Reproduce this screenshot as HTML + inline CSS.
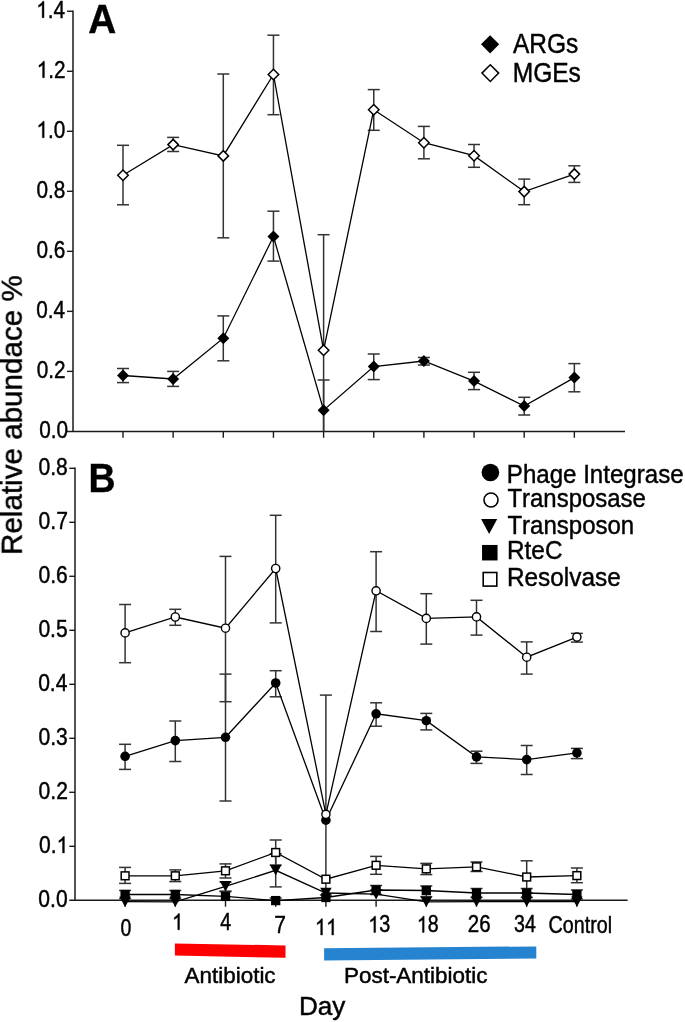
<!DOCTYPE html>
<html><head><meta charset="utf-8"><title>Relative abundance chart</title>
<style>
html,body{margin:0;padding:0;background:#fff;}
body{width:685px;height:1022px;overflow:hidden;}
svg{display:block;font-family:"Liberation Sans",sans-serif;font-kerning:none;}
text{font-kerning:none;}
</style></head>
<body>
<svg width="685" height="1022" viewBox="0 0 685 1022">
<rect width="685" height="1022" fill="#fff"/>
<line x1="73.00" y1="10.56" x2="73.00" y2="431.40" stroke="#1a1a1a" stroke-width="1.5"/>
<line x1="67.00" y1="431.40" x2="625.00" y2="431.40" stroke="#1a1a1a" stroke-width="1.5"/>
<line x1="67.00" y1="371.38" x2="73.00" y2="371.38" stroke="#1a1a1a" stroke-width="1.4"/>
<line x1="67.00" y1="311.36" x2="73.00" y2="311.36" stroke="#1a1a1a" stroke-width="1.4"/>
<line x1="67.00" y1="251.34" x2="73.00" y2="251.34" stroke="#1a1a1a" stroke-width="1.4"/>
<line x1="67.00" y1="191.32" x2="73.00" y2="191.32" stroke="#1a1a1a" stroke-width="1.4"/>
<line x1="67.00" y1="131.30" x2="73.00" y2="131.30" stroke="#1a1a1a" stroke-width="1.4"/>
<line x1="67.00" y1="71.28" x2="73.00" y2="71.28" stroke="#1a1a1a" stroke-width="1.4"/>
<line x1="67.00" y1="11.26" x2="73.00" y2="11.26" stroke="#1a1a1a" stroke-width="1.4"/>
<line x1="123.00" y1="431.40" x2="123.00" y2="437.80" stroke="#1a1a1a" stroke-width="1.4"/>
<line x1="173.15" y1="431.40" x2="173.15" y2="437.80" stroke="#1a1a1a" stroke-width="1.4"/>
<line x1="223.30" y1="431.40" x2="223.30" y2="437.80" stroke="#1a1a1a" stroke-width="1.4"/>
<line x1="273.45" y1="431.40" x2="273.45" y2="437.80" stroke="#1a1a1a" stroke-width="1.4"/>
<line x1="323.60" y1="431.40" x2="323.60" y2="437.80" stroke="#1a1a1a" stroke-width="1.4"/>
<line x1="373.75" y1="431.40" x2="373.75" y2="437.80" stroke="#1a1a1a" stroke-width="1.4"/>
<line x1="423.90" y1="431.40" x2="423.90" y2="437.80" stroke="#1a1a1a" stroke-width="1.4"/>
<line x1="474.05" y1="431.40" x2="474.05" y2="437.80" stroke="#1a1a1a" stroke-width="1.4"/>
<line x1="524.20" y1="431.40" x2="524.20" y2="437.80" stroke="#1a1a1a" stroke-width="1.4"/>
<line x1="574.35" y1="431.40" x2="574.35" y2="437.80" stroke="#1a1a1a" stroke-width="1.4"/>
<line x1="123.00" y1="368.50" x2="123.00" y2="382.60" stroke="#333" stroke-width="1.5"/>
<line x1="117.00" y1="368.50" x2="129.00" y2="368.50" stroke="#333" stroke-width="1.5"/>
<line x1="117.00" y1="382.60" x2="129.00" y2="382.60" stroke="#333" stroke-width="1.5"/>
<line x1="173.15" y1="371.40" x2="173.15" y2="386.40" stroke="#333" stroke-width="1.5"/>
<line x1="167.15" y1="371.40" x2="179.15" y2="371.40" stroke="#333" stroke-width="1.5"/>
<line x1="167.15" y1="386.40" x2="179.15" y2="386.40" stroke="#333" stroke-width="1.5"/>
<line x1="223.30" y1="315.90" x2="223.30" y2="360.80" stroke="#333" stroke-width="1.5"/>
<line x1="217.30" y1="315.90" x2="229.30" y2="315.90" stroke="#333" stroke-width="1.5"/>
<line x1="217.30" y1="360.80" x2="229.30" y2="360.80" stroke="#333" stroke-width="1.5"/>
<line x1="273.45" y1="211.20" x2="273.45" y2="261.10" stroke="#333" stroke-width="1.5"/>
<line x1="267.45" y1="211.20" x2="279.45" y2="211.20" stroke="#333" stroke-width="1.5"/>
<line x1="267.45" y1="261.10" x2="279.45" y2="261.10" stroke="#333" stroke-width="1.5"/>
<line x1="323.60" y1="380.00" x2="323.60" y2="431.40" stroke="#333" stroke-width="1.5"/>
<line x1="317.60" y1="380.00" x2="329.60" y2="380.00" stroke="#333" stroke-width="1.5"/>
<line x1="373.75" y1="354.00" x2="373.75" y2="379.60" stroke="#333" stroke-width="1.5"/>
<line x1="367.75" y1="354.00" x2="379.75" y2="354.00" stroke="#333" stroke-width="1.5"/>
<line x1="367.75" y1="379.60" x2="379.75" y2="379.60" stroke="#333" stroke-width="1.5"/>
<line x1="423.90" y1="357.50" x2="423.90" y2="365.00" stroke="#333" stroke-width="1.5"/>
<line x1="417.90" y1="357.50" x2="429.90" y2="357.50" stroke="#333" stroke-width="1.5"/>
<line x1="417.90" y1="365.00" x2="429.90" y2="365.00" stroke="#333" stroke-width="1.5"/>
<line x1="474.05" y1="372.30" x2="474.05" y2="389.60" stroke="#333" stroke-width="1.5"/>
<line x1="468.05" y1="372.30" x2="480.05" y2="372.30" stroke="#333" stroke-width="1.5"/>
<line x1="468.05" y1="389.60" x2="480.05" y2="389.60" stroke="#333" stroke-width="1.5"/>
<line x1="524.20" y1="397.30" x2="524.20" y2="415.00" stroke="#333" stroke-width="1.5"/>
<line x1="518.20" y1="397.30" x2="530.20" y2="397.30" stroke="#333" stroke-width="1.5"/>
<line x1="518.20" y1="415.00" x2="530.20" y2="415.00" stroke="#333" stroke-width="1.5"/>
<line x1="574.35" y1="363.60" x2="574.35" y2="391.80" stroke="#333" stroke-width="1.5"/>
<line x1="568.35" y1="363.60" x2="580.35" y2="363.60" stroke="#333" stroke-width="1.5"/>
<line x1="568.35" y1="391.80" x2="580.35" y2="391.80" stroke="#333" stroke-width="1.5"/>
<polyline points="123.00,375.50 173.15,379.00 223.30,338.20 273.45,236.50 323.60,410.20 373.75,366.60 423.90,361.00 474.05,381.10 524.20,406.10 574.35,377.60" fill="none" stroke="#000" stroke-width="1.3" stroke-linejoin="miter"/>
<line x1="123.00" y1="145.30" x2="123.00" y2="204.80" stroke="#333" stroke-width="1.5"/>
<line x1="117.00" y1="145.30" x2="129.00" y2="145.30" stroke="#333" stroke-width="1.5"/>
<line x1="117.00" y1="204.80" x2="129.00" y2="204.80" stroke="#333" stroke-width="1.5"/>
<line x1="173.15" y1="137.40" x2="173.15" y2="151.50" stroke="#333" stroke-width="1.5"/>
<line x1="167.15" y1="137.40" x2="179.15" y2="137.40" stroke="#333" stroke-width="1.5"/>
<line x1="167.15" y1="151.50" x2="179.15" y2="151.50" stroke="#333" stroke-width="1.5"/>
<line x1="223.30" y1="74.00" x2="223.30" y2="237.80" stroke="#333" stroke-width="1.5"/>
<line x1="217.30" y1="74.00" x2="229.30" y2="74.00" stroke="#333" stroke-width="1.5"/>
<line x1="217.30" y1="237.80" x2="229.30" y2="237.80" stroke="#333" stroke-width="1.5"/>
<line x1="273.45" y1="35.20" x2="273.45" y2="114.70" stroke="#333" stroke-width="1.5"/>
<line x1="267.45" y1="35.20" x2="279.45" y2="35.20" stroke="#333" stroke-width="1.5"/>
<line x1="267.45" y1="114.70" x2="279.45" y2="114.70" stroke="#333" stroke-width="1.5"/>
<line x1="323.60" y1="234.70" x2="323.60" y2="431.40" stroke="#333" stroke-width="1.5"/>
<line x1="317.60" y1="234.70" x2="329.60" y2="234.70" stroke="#333" stroke-width="1.5"/>
<line x1="373.75" y1="89.60" x2="373.75" y2="130.30" stroke="#333" stroke-width="1.5"/>
<line x1="367.75" y1="89.60" x2="379.75" y2="89.60" stroke="#333" stroke-width="1.5"/>
<line x1="367.75" y1="130.30" x2="379.75" y2="130.30" stroke="#333" stroke-width="1.5"/>
<line x1="423.90" y1="126.40" x2="423.90" y2="158.80" stroke="#333" stroke-width="1.5"/>
<line x1="417.90" y1="126.40" x2="429.90" y2="126.40" stroke="#333" stroke-width="1.5"/>
<line x1="417.90" y1="158.80" x2="429.90" y2="158.80" stroke="#333" stroke-width="1.5"/>
<line x1="474.05" y1="144.50" x2="474.05" y2="167.30" stroke="#333" stroke-width="1.5"/>
<line x1="468.05" y1="144.50" x2="480.05" y2="144.50" stroke="#333" stroke-width="1.5"/>
<line x1="468.05" y1="167.30" x2="480.05" y2="167.30" stroke="#333" stroke-width="1.5"/>
<line x1="524.20" y1="179.10" x2="524.20" y2="204.70" stroke="#333" stroke-width="1.5"/>
<line x1="518.20" y1="179.10" x2="530.20" y2="179.10" stroke="#333" stroke-width="1.5"/>
<line x1="518.20" y1="204.70" x2="530.20" y2="204.70" stroke="#333" stroke-width="1.5"/>
<line x1="574.35" y1="165.80" x2="574.35" y2="182.40" stroke="#333" stroke-width="1.5"/>
<line x1="568.35" y1="165.80" x2="580.35" y2="165.80" stroke="#333" stroke-width="1.5"/>
<line x1="568.35" y1="182.40" x2="580.35" y2="182.40" stroke="#333" stroke-width="1.5"/>
<polyline points="123.00,175.20 173.15,144.60 223.30,155.90 273.45,74.50 323.60,350.20 373.75,109.80 423.90,142.70 474.05,155.70 524.20,191.60 574.35,174.10" fill="none" stroke="#000" stroke-width="1.3" stroke-linejoin="miter"/>
<path d="M123.00,369.50 L129.00,375.50 L123.00,381.50 L117.00,375.50 Z" fill="#000"/>
<path d="M173.15,373.00 L179.15,379.00 L173.15,385.00 L167.15,379.00 Z" fill="#000"/>
<path d="M223.30,332.20 L229.30,338.20 L223.30,344.20 L217.30,338.20 Z" fill="#000"/>
<path d="M273.45,230.50 L279.45,236.50 L273.45,242.50 L267.45,236.50 Z" fill="#000"/>
<path d="M323.60,404.20 L329.60,410.20 L323.60,416.20 L317.60,410.20 Z" fill="#000"/>
<path d="M373.75,360.60 L379.75,366.60 L373.75,372.60 L367.75,366.60 Z" fill="#000"/>
<path d="M423.90,355.00 L429.90,361.00 L423.90,367.00 L417.90,361.00 Z" fill="#000"/>
<path d="M474.05,375.10 L480.05,381.10 L474.05,387.10 L468.05,381.10 Z" fill="#000"/>
<path d="M524.20,400.10 L530.20,406.10 L524.20,412.10 L518.20,406.10 Z" fill="#000"/>
<path d="M574.35,371.60 L580.35,377.60 L574.35,383.60 L568.35,377.60 Z" fill="#000"/>
<path d="M123.00,169.95 L128.25,175.20 L123.00,180.45 L117.75,175.20 Z" fill="#fff" stroke="#000" stroke-width="1.5"/>
<path d="M173.15,139.35 L178.40,144.60 L173.15,149.85 L167.90,144.60 Z" fill="#fff" stroke="#000" stroke-width="1.5"/>
<path d="M223.30,150.65 L228.55,155.90 L223.30,161.15 L218.05,155.90 Z" fill="#fff" stroke="#000" stroke-width="1.5"/>
<path d="M273.45,69.25 L278.70,74.50 L273.45,79.75 L268.20,74.50 Z" fill="#fff" stroke="#000" stroke-width="1.5"/>
<path d="M323.60,344.95 L328.85,350.20 L323.60,355.45 L318.35,350.20 Z" fill="#fff" stroke="#000" stroke-width="1.5"/>
<path d="M373.75,104.55 L379.00,109.80 L373.75,115.05 L368.50,109.80 Z" fill="#fff" stroke="#000" stroke-width="1.5"/>
<path d="M423.90,137.45 L429.15,142.70 L423.90,147.95 L418.65,142.70 Z" fill="#fff" stroke="#000" stroke-width="1.5"/>
<path d="M474.05,150.45 L479.30,155.70 L474.05,160.95 L468.80,155.70 Z" fill="#fff" stroke="#000" stroke-width="1.5"/>
<path d="M524.20,186.35 L529.45,191.60 L524.20,196.85 L518.95,191.60 Z" fill="#fff" stroke="#000" stroke-width="1.5"/>
<path d="M574.35,168.85 L579.60,174.10 L574.35,179.35 L569.10,174.10 Z" fill="#fff" stroke="#000" stroke-width="1.5"/>
<path d="M490.10,35.20 L499.20,44.30 L490.10,53.40 L481.00,44.30 Z" fill="#000"/>
<path d="M490.30,64.75 L498.65,73.10 L490.30,81.45 L481.95,73.10 Z" fill="#fff" stroke="#000" stroke-width="1.5"/>
<line x1="75.00" y1="467.60" x2="75.00" y2="900.30" stroke="#1a1a1a" stroke-width="1.5"/>
<line x1="69.30" y1="900.30" x2="627.60" y2="900.30" stroke="#1a1a1a" stroke-width="1.5"/>
<line x1="69.30" y1="846.30" x2="75.00" y2="846.30" stroke="#1a1a1a" stroke-width="1.4"/>
<line x1="69.30" y1="792.30" x2="75.00" y2="792.30" stroke="#1a1a1a" stroke-width="1.4"/>
<line x1="69.30" y1="738.30" x2="75.00" y2="738.30" stroke="#1a1a1a" stroke-width="1.4"/>
<line x1="69.30" y1="684.30" x2="75.00" y2="684.30" stroke="#1a1a1a" stroke-width="1.4"/>
<line x1="69.30" y1="630.30" x2="75.00" y2="630.30" stroke="#1a1a1a" stroke-width="1.4"/>
<line x1="69.30" y1="576.30" x2="75.00" y2="576.30" stroke="#1a1a1a" stroke-width="1.4"/>
<line x1="69.30" y1="522.30" x2="75.00" y2="522.30" stroke="#1a1a1a" stroke-width="1.4"/>
<line x1="69.30" y1="468.30" x2="75.00" y2="468.30" stroke="#1a1a1a" stroke-width="1.4"/>
<line x1="125.10" y1="900.30" x2="125.10" y2="906.70" stroke="#1a1a1a" stroke-width="1.4"/>
<line x1="175.30" y1="900.30" x2="175.30" y2="906.70" stroke="#1a1a1a" stroke-width="1.4"/>
<line x1="225.50" y1="900.30" x2="225.50" y2="906.70" stroke="#1a1a1a" stroke-width="1.4"/>
<line x1="275.70" y1="900.30" x2="275.70" y2="906.70" stroke="#1a1a1a" stroke-width="1.4"/>
<line x1="325.90" y1="900.30" x2="325.90" y2="906.70" stroke="#1a1a1a" stroke-width="1.4"/>
<line x1="376.10" y1="900.30" x2="376.10" y2="906.70" stroke="#1a1a1a" stroke-width="1.4"/>
<line x1="426.30" y1="900.30" x2="426.30" y2="906.70" stroke="#1a1a1a" stroke-width="1.4"/>
<line x1="476.50" y1="900.30" x2="476.50" y2="906.70" stroke="#1a1a1a" stroke-width="1.4"/>
<line x1="526.70" y1="900.30" x2="526.70" y2="906.70" stroke="#1a1a1a" stroke-width="1.4"/>
<line x1="576.90" y1="900.30" x2="576.90" y2="906.70" stroke="#1a1a1a" stroke-width="1.4"/>
<line x1="125.10" y1="744.30" x2="125.10" y2="769.40" stroke="#333" stroke-width="1.5"/>
<line x1="119.10" y1="744.30" x2="131.10" y2="744.30" stroke="#333" stroke-width="1.5"/>
<line x1="119.10" y1="769.40" x2="131.10" y2="769.40" stroke="#333" stroke-width="1.5"/>
<line x1="175.30" y1="721.00" x2="175.30" y2="761.50" stroke="#333" stroke-width="1.5"/>
<line x1="169.30" y1="721.00" x2="181.30" y2="721.00" stroke="#333" stroke-width="1.5"/>
<line x1="169.30" y1="761.50" x2="181.30" y2="761.50" stroke="#333" stroke-width="1.5"/>
<line x1="225.50" y1="674.10" x2="225.50" y2="801.00" stroke="#333" stroke-width="1.5"/>
<line x1="219.50" y1="674.10" x2="231.50" y2="674.10" stroke="#333" stroke-width="1.5"/>
<line x1="219.50" y1="801.00" x2="231.50" y2="801.00" stroke="#333" stroke-width="1.5"/>
<line x1="275.70" y1="670.70" x2="275.70" y2="696.80" stroke="#333" stroke-width="1.5"/>
<line x1="269.70" y1="670.70" x2="281.70" y2="670.70" stroke="#333" stroke-width="1.5"/>
<line x1="269.70" y1="696.80" x2="281.70" y2="696.80" stroke="#333" stroke-width="1.5"/>
<line x1="376.10" y1="702.80" x2="376.10" y2="726.20" stroke="#333" stroke-width="1.5"/>
<line x1="370.10" y1="702.80" x2="382.10" y2="702.80" stroke="#333" stroke-width="1.5"/>
<line x1="370.10" y1="726.20" x2="382.10" y2="726.20" stroke="#333" stroke-width="1.5"/>
<line x1="426.30" y1="713.40" x2="426.30" y2="729.90" stroke="#333" stroke-width="1.5"/>
<line x1="420.30" y1="713.40" x2="432.30" y2="713.40" stroke="#333" stroke-width="1.5"/>
<line x1="420.30" y1="729.90" x2="432.30" y2="729.90" stroke="#333" stroke-width="1.5"/>
<line x1="476.50" y1="751.20" x2="476.50" y2="763.40" stroke="#333" stroke-width="1.5"/>
<line x1="470.50" y1="751.20" x2="482.50" y2="751.20" stroke="#333" stroke-width="1.5"/>
<line x1="470.50" y1="763.40" x2="482.50" y2="763.40" stroke="#333" stroke-width="1.5"/>
<line x1="526.70" y1="745.50" x2="526.70" y2="774.50" stroke="#333" stroke-width="1.5"/>
<line x1="520.70" y1="745.50" x2="532.70" y2="745.50" stroke="#333" stroke-width="1.5"/>
<line x1="520.70" y1="774.50" x2="532.70" y2="774.50" stroke="#333" stroke-width="1.5"/>
<line x1="576.90" y1="748.40" x2="576.90" y2="758.60" stroke="#333" stroke-width="1.5"/>
<line x1="570.90" y1="748.40" x2="582.90" y2="748.40" stroke="#333" stroke-width="1.5"/>
<line x1="570.90" y1="758.60" x2="582.90" y2="758.60" stroke="#333" stroke-width="1.5"/>
<line x1="125.10" y1="604.50" x2="125.10" y2="662.70" stroke="#333" stroke-width="1.5"/>
<line x1="119.10" y1="604.50" x2="131.10" y2="604.50" stroke="#333" stroke-width="1.5"/>
<line x1="119.10" y1="662.70" x2="131.10" y2="662.70" stroke="#333" stroke-width="1.5"/>
<line x1="175.30" y1="609.30" x2="175.30" y2="625.30" stroke="#333" stroke-width="1.5"/>
<line x1="169.30" y1="609.30" x2="181.30" y2="609.30" stroke="#333" stroke-width="1.5"/>
<line x1="169.30" y1="625.30" x2="181.30" y2="625.30" stroke="#333" stroke-width="1.5"/>
<line x1="225.50" y1="556.40" x2="225.50" y2="701.70" stroke="#333" stroke-width="1.5"/>
<line x1="219.50" y1="556.40" x2="231.50" y2="556.40" stroke="#333" stroke-width="1.5"/>
<line x1="219.50" y1="701.70" x2="231.50" y2="701.70" stroke="#333" stroke-width="1.5"/>
<line x1="275.70" y1="515.30" x2="275.70" y2="622.90" stroke="#333" stroke-width="1.5"/>
<line x1="269.70" y1="515.30" x2="281.70" y2="515.30" stroke="#333" stroke-width="1.5"/>
<line x1="269.70" y1="622.90" x2="281.70" y2="622.90" stroke="#333" stroke-width="1.5"/>
<line x1="325.90" y1="695.10" x2="325.90" y2="900.30" stroke="#333" stroke-width="1.5"/>
<line x1="319.90" y1="695.10" x2="331.90" y2="695.10" stroke="#333" stroke-width="1.5"/>
<line x1="376.10" y1="551.70" x2="376.10" y2="631.50" stroke="#333" stroke-width="1.5"/>
<line x1="370.10" y1="551.70" x2="382.10" y2="551.70" stroke="#333" stroke-width="1.5"/>
<line x1="370.10" y1="631.50" x2="382.10" y2="631.50" stroke="#333" stroke-width="1.5"/>
<line x1="426.30" y1="593.70" x2="426.30" y2="644.10" stroke="#333" stroke-width="1.5"/>
<line x1="420.30" y1="593.70" x2="432.30" y2="593.70" stroke="#333" stroke-width="1.5"/>
<line x1="420.30" y1="644.10" x2="432.30" y2="644.10" stroke="#333" stroke-width="1.5"/>
<line x1="476.50" y1="600.30" x2="476.50" y2="635.10" stroke="#333" stroke-width="1.5"/>
<line x1="470.50" y1="600.30" x2="482.50" y2="600.30" stroke="#333" stroke-width="1.5"/>
<line x1="470.50" y1="635.10" x2="482.50" y2="635.10" stroke="#333" stroke-width="1.5"/>
<line x1="526.70" y1="641.90" x2="526.70" y2="674.10" stroke="#333" stroke-width="1.5"/>
<line x1="520.70" y1="641.90" x2="532.70" y2="641.90" stroke="#333" stroke-width="1.5"/>
<line x1="520.70" y1="674.10" x2="532.70" y2="674.10" stroke="#333" stroke-width="1.5"/>
<line x1="576.90" y1="633.40" x2="576.90" y2="642.10" stroke="#333" stroke-width="1.5"/>
<line x1="570.90" y1="633.40" x2="582.90" y2="633.40" stroke="#333" stroke-width="1.5"/>
<line x1="570.90" y1="642.10" x2="582.90" y2="642.10" stroke="#333" stroke-width="1.5"/>
<line x1="225.50" y1="882.00" x2="225.50" y2="891.20" stroke="#333" stroke-width="1.5"/>
<line x1="219.50" y1="882.00" x2="231.50" y2="882.00" stroke="#333" stroke-width="1.5"/>
<line x1="219.50" y1="891.20" x2="231.50" y2="891.20" stroke="#333" stroke-width="1.5"/>
<line x1="275.70" y1="853.70" x2="275.70" y2="886.90" stroke="#333" stroke-width="1.5"/>
<line x1="269.70" y1="853.70" x2="281.70" y2="853.70" stroke="#333" stroke-width="1.5"/>
<line x1="269.70" y1="886.90" x2="281.70" y2="886.90" stroke="#333" stroke-width="1.5"/>
<line x1="125.10" y1="890.50" x2="125.10" y2="898.50" stroke="#333" stroke-width="1.5"/>
<line x1="119.10" y1="890.50" x2="131.10" y2="890.50" stroke="#333" stroke-width="1.5"/>
<line x1="119.10" y1="898.50" x2="131.10" y2="898.50" stroke="#333" stroke-width="1.5"/>
<line x1="175.30" y1="890.50" x2="175.30" y2="898.50" stroke="#333" stroke-width="1.5"/>
<line x1="169.30" y1="890.50" x2="181.30" y2="890.50" stroke="#333" stroke-width="1.5"/>
<line x1="169.30" y1="898.50" x2="181.30" y2="898.50" stroke="#333" stroke-width="1.5"/>
<line x1="225.50" y1="891.60" x2="225.50" y2="900.80" stroke="#333" stroke-width="1.5"/>
<line x1="219.50" y1="891.60" x2="231.50" y2="891.60" stroke="#333" stroke-width="1.5"/>
<line x1="275.70" y1="898.00" x2="275.70" y2="903.00" stroke="#333" stroke-width="1.5"/>
<line x1="269.70" y1="898.00" x2="281.70" y2="898.00" stroke="#333" stroke-width="1.5"/>
<line x1="325.90" y1="895.00" x2="325.90" y2="900.00" stroke="#333" stroke-width="1.5"/>
<line x1="319.90" y1="895.00" x2="331.90" y2="895.00" stroke="#333" stroke-width="1.5"/>
<line x1="376.10" y1="885.50" x2="376.10" y2="894.50" stroke="#333" stroke-width="1.5"/>
<line x1="370.10" y1="885.50" x2="382.10" y2="885.50" stroke="#333" stroke-width="1.5"/>
<line x1="370.10" y1="894.50" x2="382.10" y2="894.50" stroke="#333" stroke-width="1.5"/>
<line x1="426.30" y1="886.00" x2="426.30" y2="896.60" stroke="#333" stroke-width="1.5"/>
<line x1="420.30" y1="886.00" x2="432.30" y2="886.00" stroke="#333" stroke-width="1.5"/>
<line x1="420.30" y1="896.60" x2="432.30" y2="896.60" stroke="#333" stroke-width="1.5"/>
<line x1="476.50" y1="888.50" x2="476.50" y2="897.50" stroke="#333" stroke-width="1.5"/>
<line x1="470.50" y1="888.50" x2="482.50" y2="888.50" stroke="#333" stroke-width="1.5"/>
<line x1="470.50" y1="897.50" x2="482.50" y2="897.50" stroke="#333" stroke-width="1.5"/>
<line x1="526.70" y1="888.50" x2="526.70" y2="897.50" stroke="#333" stroke-width="1.5"/>
<line x1="520.70" y1="888.50" x2="532.70" y2="888.50" stroke="#333" stroke-width="1.5"/>
<line x1="520.70" y1="897.50" x2="532.70" y2="897.50" stroke="#333" stroke-width="1.5"/>
<line x1="576.90" y1="890.00" x2="576.90" y2="899.00" stroke="#333" stroke-width="1.5"/>
<line x1="570.90" y1="890.00" x2="582.90" y2="890.00" stroke="#333" stroke-width="1.5"/>
<line x1="570.90" y1="899.00" x2="582.90" y2="899.00" stroke="#333" stroke-width="1.5"/>
<line x1="125.10" y1="867.40" x2="125.10" y2="883.40" stroke="#333" stroke-width="1.5"/>
<line x1="119.10" y1="867.40" x2="131.10" y2="867.40" stroke="#333" stroke-width="1.5"/>
<line x1="119.10" y1="883.40" x2="131.10" y2="883.40" stroke="#333" stroke-width="1.5"/>
<line x1="175.30" y1="869.90" x2="175.30" y2="881.60" stroke="#333" stroke-width="1.5"/>
<line x1="169.30" y1="869.90" x2="181.30" y2="869.90" stroke="#333" stroke-width="1.5"/>
<line x1="169.30" y1="881.60" x2="181.30" y2="881.60" stroke="#333" stroke-width="1.5"/>
<line x1="225.50" y1="863.90" x2="225.50" y2="878.00" stroke="#333" stroke-width="1.5"/>
<line x1="219.50" y1="863.90" x2="231.50" y2="863.90" stroke="#333" stroke-width="1.5"/>
<line x1="219.50" y1="878.00" x2="231.50" y2="878.00" stroke="#333" stroke-width="1.5"/>
<line x1="275.70" y1="840.00" x2="275.70" y2="865.00" stroke="#333" stroke-width="1.5"/>
<line x1="269.70" y1="840.00" x2="281.70" y2="840.00" stroke="#333" stroke-width="1.5"/>
<line x1="269.70" y1="865.00" x2="281.70" y2="865.00" stroke="#333" stroke-width="1.5"/>
<line x1="376.10" y1="856.40" x2="376.10" y2="874.30" stroke="#333" stroke-width="1.5"/>
<line x1="370.10" y1="856.40" x2="382.10" y2="856.40" stroke="#333" stroke-width="1.5"/>
<line x1="370.10" y1="874.30" x2="382.10" y2="874.30" stroke="#333" stroke-width="1.5"/>
<line x1="426.30" y1="863.40" x2="426.30" y2="874.60" stroke="#333" stroke-width="1.5"/>
<line x1="420.30" y1="863.40" x2="432.30" y2="863.40" stroke="#333" stroke-width="1.5"/>
<line x1="420.30" y1="874.60" x2="432.30" y2="874.60" stroke="#333" stroke-width="1.5"/>
<line x1="476.50" y1="862.00" x2="476.50" y2="871.50" stroke="#333" stroke-width="1.5"/>
<line x1="470.50" y1="862.00" x2="482.50" y2="862.00" stroke="#333" stroke-width="1.5"/>
<line x1="470.50" y1="871.50" x2="482.50" y2="871.50" stroke="#333" stroke-width="1.5"/>
<line x1="526.70" y1="860.80" x2="526.70" y2="893.00" stroke="#333" stroke-width="1.5"/>
<line x1="520.70" y1="860.80" x2="532.70" y2="860.80" stroke="#333" stroke-width="1.5"/>
<line x1="520.70" y1="893.00" x2="532.70" y2="893.00" stroke="#333" stroke-width="1.5"/>
<line x1="576.90" y1="868.00" x2="576.90" y2="882.70" stroke="#333" stroke-width="1.5"/>
<line x1="570.90" y1="868.00" x2="582.90" y2="868.00" stroke="#333" stroke-width="1.5"/>
<line x1="570.90" y1="882.70" x2="582.90" y2="882.70" stroke="#333" stroke-width="1.5"/>
<polyline points="125.10,756.30 175.30,740.60 225.50,737.30 275.70,683.00 325.90,820.20 376.10,713.80 426.30,720.70 476.50,756.90 526.70,759.60 576.90,752.90" fill="none" stroke="#000" stroke-width="1.3" stroke-linejoin="miter"/>
<polyline points="125.10,632.90 175.30,617.00 225.50,628.20 275.70,568.50 325.90,814.30 376.10,590.80 426.30,618.40 476.50,616.90 526.70,657.20 576.90,637.10" fill="none" stroke="#000" stroke-width="1.3" stroke-linejoin="miter"/>
<polyline points="125.10,901.70 175.30,901.80 225.50,886.30 275.70,870.30 325.90,893.00 376.10,894.20 426.30,901.90 476.50,901.60 526.70,901.60 576.90,901.60" fill="none" stroke="#000" stroke-width="1.3" stroke-linejoin="miter"/>
<polyline points="125.10,894.50 175.30,894.50 225.50,896.40 275.70,900.60 325.90,897.50 376.10,890.00 426.30,890.50 476.50,893.00 526.70,893.00 576.90,894.50" fill="none" stroke="#000" stroke-width="1.3" stroke-linejoin="miter"/>
<polyline points="125.10,875.80 175.30,875.80 225.50,870.80 275.70,852.50 325.90,879.20 376.10,865.30 426.30,868.90 476.50,866.80 526.70,877.00 576.90,875.60" fill="none" stroke="#000" stroke-width="1.3" stroke-linejoin="miter"/>
<circle cx="125.10" cy="756.30" r="4.80" fill="#000"/>
<circle cx="175.30" cy="740.60" r="4.80" fill="#000"/>
<circle cx="225.50" cy="737.30" r="4.80" fill="#000"/>
<circle cx="275.70" cy="683.00" r="4.80" fill="#000"/>
<circle cx="325.90" cy="820.20" r="4.80" fill="#000"/>
<circle cx="376.10" cy="713.80" r="4.80" fill="#000"/>
<circle cx="426.30" cy="720.70" r="4.80" fill="#000"/>
<circle cx="476.50" cy="756.90" r="4.80" fill="#000"/>
<circle cx="526.70" cy="759.60" r="4.80" fill="#000"/>
<circle cx="576.90" cy="752.90" r="4.80" fill="#000"/>
<circle cx="125.10" cy="632.90" r="4.10" fill="#fff" stroke="#000" stroke-width="1.4"/>
<circle cx="175.30" cy="617.00" r="4.10" fill="#fff" stroke="#000" stroke-width="1.4"/>
<circle cx="225.50" cy="628.20" r="4.10" fill="#fff" stroke="#000" stroke-width="1.4"/>
<circle cx="275.70" cy="568.50" r="4.10" fill="#fff" stroke="#000" stroke-width="1.4"/>
<circle cx="325.90" cy="814.30" r="4.10" fill="#fff" stroke="#000" stroke-width="1.4"/>
<circle cx="376.10" cy="590.80" r="4.10" fill="#fff" stroke="#000" stroke-width="1.4"/>
<circle cx="426.30" cy="618.40" r="4.10" fill="#fff" stroke="#000" stroke-width="1.4"/>
<circle cx="476.50" cy="616.90" r="4.10" fill="#fff" stroke="#000" stroke-width="1.4"/>
<circle cx="526.70" cy="657.20" r="4.10" fill="#fff" stroke="#000" stroke-width="1.4"/>
<circle cx="576.90" cy="637.10" r="4.10" fill="#fff" stroke="#000" stroke-width="1.4"/>
<path d="M119.35,896.50 L130.85,896.50 L125.10,906.90 Z" fill="#000"/>
<path d="M169.55,896.60 L181.05,896.60 L175.30,907.00 Z" fill="#000"/>
<path d="M219.75,881.10 L231.25,881.10 L225.50,891.50 Z" fill="#000"/>
<path d="M269.95,865.10 L281.45,865.10 L275.70,875.50 Z" fill="#000"/>
<path d="M320.15,887.80 L331.65,887.80 L325.90,898.20 Z" fill="#000"/>
<path d="M370.35,889.00 L381.85,889.00 L376.10,899.40 Z" fill="#000"/>
<path d="M420.55,896.70 L432.05,896.70 L426.30,907.10 Z" fill="#000"/>
<path d="M470.75,896.40 L482.25,896.40 L476.50,906.80 Z" fill="#000"/>
<path d="M520.95,896.40 L532.45,896.40 L526.70,906.80 Z" fill="#000"/>
<path d="M571.15,896.40 L582.65,896.40 L576.90,906.80 Z" fill="#000"/>
<rect x="120.45" y="889.85" width="9.30" height="9.30" fill="#000"/>
<rect x="170.65" y="889.85" width="9.30" height="9.30" fill="#000"/>
<rect x="220.85" y="891.75" width="9.30" height="9.30" fill="#000"/>
<rect x="271.05" y="895.95" width="9.30" height="9.30" fill="#000"/>
<rect x="321.25" y="892.85" width="9.30" height="9.30" fill="#000"/>
<rect x="371.45" y="885.35" width="9.30" height="9.30" fill="#000"/>
<rect x="421.65" y="885.85" width="9.30" height="9.30" fill="#000"/>
<rect x="471.85" y="888.35" width="9.30" height="9.30" fill="#000"/>
<rect x="522.05" y="888.35" width="9.30" height="9.30" fill="#000"/>
<rect x="572.25" y="889.85" width="9.30" height="9.30" fill="#000"/>
<rect x="121.20" y="871.90" width="7.80" height="7.80" fill="#fff" stroke="#000" stroke-width="1.5"/>
<rect x="171.40" y="871.90" width="7.80" height="7.80" fill="#fff" stroke="#000" stroke-width="1.5"/>
<rect x="221.60" y="866.90" width="7.80" height="7.80" fill="#fff" stroke="#000" stroke-width="1.5"/>
<rect x="271.80" y="848.60" width="7.80" height="7.80" fill="#fff" stroke="#000" stroke-width="1.5"/>
<rect x="322.00" y="875.30" width="7.80" height="7.80" fill="#fff" stroke="#000" stroke-width="1.5"/>
<rect x="372.20" y="861.40" width="7.80" height="7.80" fill="#fff" stroke="#000" stroke-width="1.5"/>
<rect x="422.40" y="865.00" width="7.80" height="7.80" fill="#fff" stroke="#000" stroke-width="1.5"/>
<rect x="472.60" y="862.90" width="7.80" height="7.80" fill="#fff" stroke="#000" stroke-width="1.5"/>
<rect x="522.80" y="873.10" width="7.80" height="7.80" fill="#fff" stroke="#000" stroke-width="1.5"/>
<rect x="573.00" y="871.70" width="7.80" height="7.80" fill="#fff" stroke="#000" stroke-width="1.5"/>
<circle cx="490.40" cy="472.50" r="8.80" fill="#000"/>
<circle cx="491.00" cy="500.00" r="7.00" fill="#fff" stroke="#000" stroke-width="1.6"/>
<path d="M481.1,519 L497.2,519 L489.15,534.1 Z" fill="#000"/>
<rect x="482.05" y="544.95" width="15.50" height="15.50" fill="#000"/>
<rect x="483.20" y="572.50" width="13.60" height="13.60" fill="#fff" stroke="#000" stroke-width="1.6"/>
<path d="M174.9,943.5 L285.5,945.4 L285.5,957.8 L174.9,955.5 Z" fill="#ff0000"/>
<path d="M324.1,948.2 L536.3,946.4 L536.3,958.4 L324.1,960.5 Z" fill="#2683cf"/>
<g style="filter:grayscale(1)" stroke="#000" stroke-width="0.45">
<text transform="translate(39.14,437.80) scale(0.880,1)" font-size="23.60" font-weight="normal" fill="#000">0.0</text>
<text transform="translate(36.67,377.78) scale(0.880,1)" font-size="23.60" font-weight="normal" fill="#000">0.2</text>
<text transform="translate(36.24,317.76) scale(0.880,1)" font-size="23.60" font-weight="normal" fill="#000">0.4</text>
<text transform="translate(36.54,257.74) scale(0.880,1)" font-size="23.60" font-weight="normal" fill="#000">0.6</text>
<text transform="translate(36.53,197.72) scale(0.880,1)" font-size="23.60" font-weight="normal" fill="#000">0.8</text>
<path d="M763 0L583 0L583 1120C540 1080 483 1040 413 1000C344 960 281 930 226 910L226 1080C327 1125 414 1182 489 1248C564 1314 617 1370 648 1430L763 1430Z" fill="#000" stroke-width="39.1" transform="translate(36.44,137.70) scale(0.01014,-0.01152)"/>
<text transform="translate(36.44,137.70) scale(0.880,1)" font-size="23.60" font-weight="normal" fill="#000"> .0</text>
<path d="M763 0L583 0L583 1120C540 1080 483 1040 413 1000C344 960 281 930 226 910L226 1080C327 1125 414 1182 489 1248C564 1314 617 1370 648 1430L763 1430Z" fill="#000" stroke-width="39.1" transform="translate(36.67,77.68) scale(0.01014,-0.01152)"/>
<text transform="translate(36.67,77.68) scale(0.880,1)" font-size="23.60" font-weight="normal" fill="#000"> .2</text>
<path d="M763 0L583 0L583 1120C540 1080 483 1040 413 1000C344 960 281 930 226 910L226 1080C327 1125 414 1182 489 1248C564 1314 617 1370 648 1430L763 1430Z" fill="#000" stroke-width="39.1" transform="translate(36.24,17.66) scale(0.01014,-0.01152)"/>
<text transform="translate(36.24,17.66) scale(0.880,1)" font-size="23.60" font-weight="normal" fill="#000"> .4</text>
<text transform="translate(38.35,906.90) scale(0.900,1)" font-size="23.40" font-weight="normal" fill="#000">0.0</text>
<path d="M763 0L583 0L583 1120C540 1080 483 1040 413 1000C344 960 281 930 226 910L226 1080C327 1125 414 1182 489 1248C564 1314 617 1370 648 1430L763 1430Z" fill="#000" stroke-width="39.4" transform="translate(56.55,852.90) scale(0.01028,-0.01143)"/>
<text transform="translate(38.99,852.90) scale(0.900,1)" font-size="23.40" font-weight="normal" fill="#000">0. </text>
<text transform="translate(38.58,798.90) scale(0.900,1)" font-size="23.40" font-weight="normal" fill="#000">0.2</text>
<text transform="translate(38.45,744.90) scale(0.900,1)" font-size="23.40" font-weight="normal" fill="#000">0.3</text>
<text transform="translate(38.14,690.90) scale(0.900,1)" font-size="23.40" font-weight="normal" fill="#000">0.4</text>
<text transform="translate(38.41,636.90) scale(0.900,1)" font-size="23.40" font-weight="normal" fill="#000">0.5</text>
<text transform="translate(38.45,582.90) scale(0.900,1)" font-size="23.40" font-weight="normal" fill="#000">0.6</text>
<text transform="translate(38.58,528.90) scale(0.900,1)" font-size="23.40" font-weight="normal" fill="#000">0.7</text>
<text transform="translate(38.44,474.90) scale(0.900,1)" font-size="23.40" font-weight="normal" fill="#000">0.8</text>
<text transform="translate(120.46,935.50) scale(0.840,1)" font-size="23.30" font-weight="normal" fill="#000">0</text>
<path d="M763 0L583 0L583 1120C540 1080 483 1040 413 1000C344 960 281 930 226 910L226 1080C327 1125 414 1182 489 1248C564 1314 617 1370 648 1430L763 1430Z" fill="#000" stroke-width="39.6" transform="translate(172.06,929.80) scale(0.00978,-0.01138)"/>
<text transform="translate(172.06,929.80) scale(0.860,1)" font-size="23.30" font-weight="normal" fill="#000"> </text>
<text transform="translate(220.32,929.80) scale(0.840,1)" font-size="23.30" font-weight="normal" fill="#000">4</text>
<text transform="translate(274.26,932.70) scale(0.900,1)" font-size="23.30" font-weight="normal" fill="#000">7</text>
<path d="M763 0L583 0L583 1120C540 1080 483 1040 413 1000C344 960 281 930 226 910L226 1080C327 1125 414 1182 489 1248C564 1314 617 1370 648 1430L763 1430Z" fill="#000" stroke-width="39.6" transform="translate(314.99,935.00) scale(0.00978,-0.01138)"/>
<path d="M763 0L583 0L583 1120C540 1080 483 1040 413 1000C344 960 281 930 226 910L226 1080C327 1125 414 1182 489 1248C564 1314 617 1370 648 1430L763 1430Z" fill="#000" stroke-width="39.6" transform="translate(326.13,935.00) scale(0.00978,-0.01138)"/>
<text transform="translate(314.99,935.00) scale(0.860,1)" font-size="23.30" font-weight="normal" fill="#000">  </text>
<path d="M763 0L583 0L583 1120C540 1080 483 1040 413 1000C344 960 281 930 226 910L226 1080C327 1125 414 1182 489 1248C564 1314 617 1370 648 1430L763 1430Z" fill="#000" stroke-width="39.6" transform="translate(368.23,932.40) scale(0.00967,-0.01138)"/>
<text transform="translate(368.23,932.40) scale(0.850,1)" font-size="23.30" font-weight="normal" fill="#000"> 3</text>
<path d="M763 0L583 0L583 1120C540 1080 483 1040 413 1000C344 960 281 930 226 910L226 1080C327 1125 414 1182 489 1248C564 1314 617 1370 648 1430L763 1430Z" fill="#000" stroke-width="39.6" transform="translate(416.86,932.40) scale(0.00956,-0.01138)"/>
<text transform="translate(416.86,932.40) scale(0.840,1)" font-size="23.30" font-weight="normal" fill="#000"> 8</text>
<text transform="translate(467.83,932.40) scale(0.880,1)" font-size="23.30" font-weight="normal" fill="#000">26</text>
<text transform="translate(514.03,932.40) scale(0.840,1)" font-size="23.30" font-weight="normal" fill="#000">34</text>
<text transform="translate(548.62,932.50) scale(0.845,1)" font-size="23.30" font-weight="normal" fill="#000">Control</text>
<text transform="translate(88.24,33.10) scale(0.970,1)" font-size="39.90" font-weight="bold" fill="#000">A</text>
<text transform="translate(88.50,491.90) scale(0.930,1)" font-size="40.20" font-weight="bold" fill="#000">B</text>
<text transform="translate(513.05,52.80) scale(0.910,1)" font-size="26.90" font-weight="normal" fill="#000">ARGs</text>
<text transform="translate(512.68,82.30) scale(0.910,1)" font-size="27.00" font-weight="normal" fill="#000">MGEs</text>
<text transform="translate(506.82,482.50) scale(0.920,1)" font-size="26.20" font-weight="normal" fill="#000">Phage Integrase</text>
<text transform="translate(507.46,506.60) scale(0.900,1)" font-size="26.60" font-weight="normal" fill="#000">Transposase</text>
<text transform="translate(507.46,533.90) scale(0.910,1)" font-size="26.40" font-weight="normal" fill="#000">Transposon</text>
<text transform="translate(507.00,559.20) scale(0.930,1)" font-size="26.20" font-weight="normal" fill="#000">RteC</text>
<text transform="translate(507.00,585.90) scale(0.930,1)" font-size="26.20" font-weight="normal" fill="#000">Resolvase</text>
<text transform="translate(184.56,982.80) scale(1.030,1)" font-size="21.80" font-weight="normal" fill="#000">Antibiotic</text>
<text transform="translate(343.96,983.40) scale(1.060,1)" font-size="21.20" font-weight="normal" fill="#000">Post-Antibiotic</text>
<text transform="translate(298.95,1015.10) scale(1.010,1)" font-size="25.90" font-weight="normal" fill="#000">Day</text>
<text transform="translate(21.8,555.03) rotate(-90) scale(1.007,1)" font-size="29.4" fill="#000">Relative abundace %</text>
</g>
</svg>
</body></html>
